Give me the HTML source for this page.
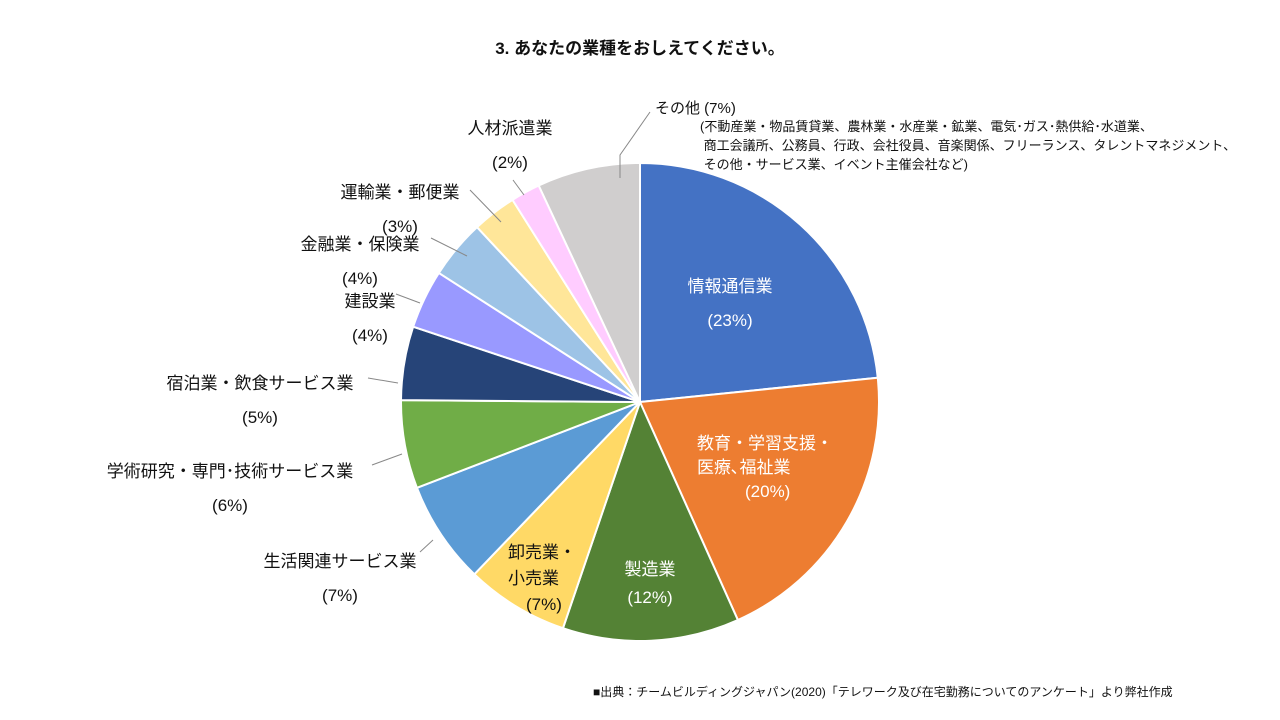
<!DOCTYPE html>
<html><head><meta charset="utf-8"><style>
body{margin:0;background:#fff;width:1280px;height:720px;overflow:hidden;font-family:"Liberation Sans","Noto Sans CJK JP",sans-serif;}
.t{position:absolute;white-space:nowrap;color:#111;font-size:16px;}
.w{color:#fff;}
.c{text-align:center;}
</style></head><body>
<div class="t" style="left:0;width:1280px;top:34px;text-align:center;font-weight:bold;font-size:17px;">3. あなたの業種をおしえてください。</div>
<svg id="pie" width="1280" height="720" style="position:absolute;left:0;top:0">
<g id="slices"></g>
<g stroke="#888" stroke-width="1" fill="none">
<polyline points="620,178 620,155 650,112"/>
<line x1="524" y1="195" x2="513" y2="180"/>
<line x1="501" y1="222" x2="470" y2="190"/>
<line x1="467" y1="256" x2="431" y2="238"/>
<line x1="420" y1="303" x2="396" y2="294"/>
<line x1="398" y1="383" x2="368" y2="378"/>
<line x1="402" y1="454" x2="372" y2="465"/>
<line x1="433" y1="540" x2="420" y2="552"/>
</g>
</svg>
<div class="t w c" style="left:670px;top:270px;width:120px;line-height:34px;font-size:17px;">情報通信業<br>(23%)</div>
<div class="t w" style="left:697px;top:432px;line-height:24px;font-size:17px;">教育・学習支援・<br>医療､福祉業<br><span style="margin-left:48px">(20%)</span></div>
<div class="t w c" style="left:605px;top:556px;width:90px;line-height:28px;font-size:17px;">製造業<br>(12%)</div>
<div class="t" style="left:508px;top:540px;line-height:26px;font-size:17px;">卸売業・<br>小売業<br><span style="margin-left:18px">(7%)</span></div>
<div class="t c" style="left:250px;top:545px;width:180px;line-height:34px;font-size:17px;">生活関連サービス業<br>(7%)</div>
<div class="t c" style="left:90px;top:455px;width:280px;line-height:34px;font-size:17px;">学術研究・専門･技術サービス業<br>(6%)</div>
<div class="t c" style="left:150px;top:367px;width:220px;line-height:34px;font-size:17px;">宿泊業・飲食サービス業<br>(5%)</div>
<div class="t c" style="left:320px;top:285px;width:100px;line-height:34px;font-size:17px;">建設業<br>(4%)</div>
<div class="t c" style="left:285px;top:228px;width:150px;line-height:34px;font-size:17px;">金融業・保険業<br>(4%)</div>
<div class="t c" style="left:325px;top:176px;width:150px;line-height:34px;font-size:17px;">運輸業・郵便業<br>(3%)</div>
<div class="t c" style="left:435px;top:112px;width:150px;line-height:34px;font-size:17px;">人材派遣業<br>(2%)</div>
<div class="t" style="left:655px;top:97px;font-size:15px;">その他 (7%)</div>
<div class="t" style="left:700px;top:117px;font-size:13px;line-height:19px;">(不動産業・物品賃貸業、農林業・水産業・鉱業、電気･ガス･熱供給･水道業、<br>&nbsp;商工会議所、公務員、行政、会社役員、音楽関係、フリーランス、タレントマネジメント、<br>&nbsp;その他・サービス業、イベント主催会社など)</div>
<div class="t" style="left:593px;top:683px;font-size:12px;">■出典：チームビルディングジャパン(2020)「テレワーク及び在宅勤務についてのアンケート」より弊社作成</div>
<script>
const categories=["情報通信業","教育・学習支援・医療、福祉業","製造業","卸売業・小売業","生活関連サービス業","学術研究・専門・技術サービス業","宿泊業・飲食サービス業","建設業","金融業・保険業","運輸業・郵便業","人材派遣業","その他"];
const values=[23.5,20,12,7,7,6,5,4,4,3,2,7];
const colors=["#4472C4","#ED7D31","#548235","#FFD966","#5B9BD5","#70AD47","#264478","#9999FF","#9DC3E6","#FFE699","#FFCCFF","#D0CECE"];
const cx=640,cy=402,r=239;
const g=document.getElementById('slices');
const total=values.reduce((a,b)=>a+b,0);
let a0=0;
function pt(a){return [cx+r*Math.sin(a),cy-r*Math.cos(a)];}
values.forEach((v,i)=>{
  const a1=a0+v/total*2*Math.PI;
  const p0=pt(a0),p1=pt(a1);
  const p=document.createElementNS('http://www.w3.org/2000/svg','path');
  p.setAttribute('d',`M${cx},${cy}L${p0[0]},${p0[1]}A${r},${r} 0 ${a1-a0>Math.PI?1:0} 1 ${p1[0]},${p1[1]}Z`);
  p.setAttribute('fill',colors[i]);
  p.setAttribute('stroke','#fff');
  p.setAttribute('stroke-width','2');
  
  
  g.appendChild(p);
  a0=a1;
});
</script>
</body></html>
